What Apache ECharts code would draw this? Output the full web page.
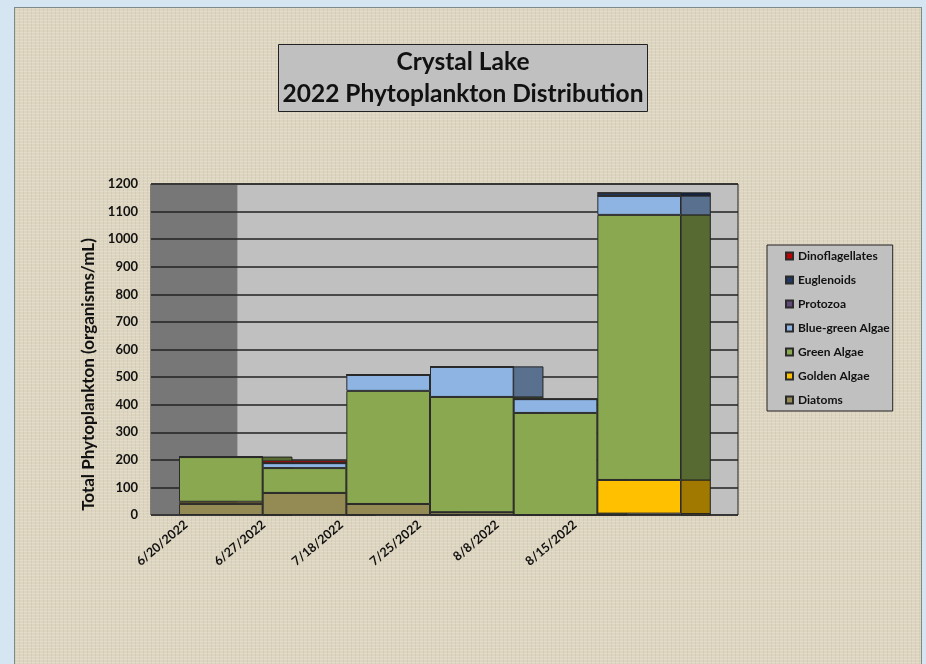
<!DOCTYPE html>
<html>
<head>
<meta charset="utf-8">
<script src="https://cdn.jsdelivr.net/npm/echarts@6/dist/echarts.min.js"></script>
<style>
  html, body { margin: 0; padding: 0; width: 926px; height: 664px; overflow: hidden; background: #d5e6f2; }
  #panel {
    position: absolute; left: 14px; top: 7px; width: 908px; height: 660px; box-sizing: border-box;
    border: 1px solid #7c8a8a;
    background-color: #ddd5c0;
    background-image:
      repeating-linear-gradient(0deg, rgba(255,255,255,0.16) 0 1px, transparent 1px 3px),
      repeating-linear-gradient(90deg, rgba(130,110,80,0.09) 0 1px, transparent 1px 4px);
  }
  #chart { position: absolute; left: 0; top: 0; width: 926px; height: 664px; }
</style>
</head>
<body>
<div id="panel"></div>
<div id="chart"></div>
<script>
// sample dates
const dates = ['6/20/2022', '6/27/2022', '7/18/2022', '7/25/2022', '8/8/2022', '8/15/2022'];

// organisms/mL (bottom to top)
const diatoms = [40, 80, 40, 10, 0, 5];
const goldenAlgae = [8, 0, 0, 0, 0, 122];
const greenAlgae = [162, 90, 410, 418, 370, 961];
const blueGreenAlgae = [0, 18, 58, 109, 50, 69];
const protozoa = [0, 0, 0, 0, 0, 0];
const euglenoids = [0, 0, 0, 0, 0, 11];
const dinoflagellates = [0, 10, 0, 0, 0, 0];

const FONT = 'Lato, "DejaVu Sans", sans-serif';

const groups = [
  { name: 'Diatoms', values: diatoms, color: '#948a54' },
  { name: 'Golden Algae', values: goldenAlgae, color: '#ffc000' },
  { name: 'Green Algae', values: greenAlgae, color: '#8aa84f' },
  { name: 'Blue-green Algae', values: blueGreenAlgae, color: '#8db4e2' },
  { name: 'Protozoa', values: protozoa, color: '#604a7b' },
  { name: 'Euglenoids', values: euglenoids, color: '#1f3864' },
  { name: 'Dinoflagellates', values: dinoflagellates, color: '#c00000' }
];

function darken(hex, f) {
  const n = parseInt(hex.slice(1), 16);
  const r = Math.round(((n >> 16) & 255) * f);
  const g = Math.round(((n >> 8) & 255) * f);
  const b = Math.round((n & 255) * f);
  return 'rgb(' + r + ',' + g + ',' + b + ')';
}

// side faces of the 3d columns: [category, base, top, group]
const sideData = [];
dates.forEach(function (d, i) {
  let base = 0;
  groups.forEach(function (g, k) {
    const v = g.values[i];
    if (v > 0) sideData.push([i, base, base + v, k]);
    base += v;
  });
});

const barSeries = groups.map(function (g) {
  return {
    name: g.name,
    type: 'bar',
    stack: 'total',
    xAxisIndex: 1,
    yAxisIndex: 1,
    barWidth: '100%',
    z: 10,
    itemStyle: { color: g.color, borderColor: '#2b2b2b', borderWidth: 1 },
    data: g.values
  };
});

const chart = echarts.init(document.getElementById('chart'));

chart.setOption({
  backgroundColor: 'transparent',
  animation: false,
  textStyle: { fontFamily: FONT },
  title: {
    text: 'Crystal Lake\n2022 Phytoplankton Distribution',
    left: 'center',
    top: 44,
    backgroundColor: '#c0c0c0',
    borderColor: '#222',
    borderWidth: 1,
    padding: [2, 4, 2, 4],
    textStyle: { fontFamily: FONT, fontSize: 24.5, fontWeight: 'bold', color: '#111', lineHeight: 32 }
  },
  legend: {
    data: groups.map(function (g) { return g.name; }).reverse(),
    orient: 'vertical',
    left: 767,
    top: 245,
    icon: 'rect',
    itemWidth: 7,
    itemHeight: 7,
    itemGap: 12,
    backgroundColor: '#c0c0c0',
    borderColor: '#222',
    borderWidth: 1,
    padding: [5, 3, 5, 18],
    textStyle: { fontFamily: FONT, fontSize: 12, fontWeight: 'bold', color: '#111', lineHeight: 12 }
  },
  grid: [
    { left: 151, top: 184, width: 587, height: 331, show: true, backgroundColor: '#c0c0c0', borderColor: '#222', borderWidth: 1 },
    { left: 179, top: 184, width: 502, height: 331 },
    { left: 147, top: 184, width: 467, height: 331 }
  ],
  xAxis: [
    { gridIndex: 0, type: 'value', min: 0, max: 7, show: false },
    { gridIndex: 1, type: 'category', data: dates, show: false },
    {
      gridIndex: 2, type: 'category', data: dates,
      axisLine: { show: false }, axisTick: { show: false },
      axisLabel: { interval: 0, rotate: 40, margin: 8, fontFamily: FONT, fontSize: 12.5, fontWeight: 'bold', color: '#111' }
    }
  ],
  yAxis: [
    {
      gridIndex: 0, type: 'value', min: 0, max: 1200, interval: 100, z: 3,
      axisLine: { show: false }, axisTick: { show: false },
      axisLabel: {
        margin: 13, fontFamily: FONT, fontSize: 13, fontWeight: 'bold', color: '#111',
        formatter: function (v) { return String(v); }
      },
      splitLine: { lineStyle: { color: '#222', width: 1.5 } },
      name: 'Total Phytoplankton (organisms/mL)',
      nameLocation: 'middle',
      nameGap: 41,
      nameTextStyle: { fontFamily: FONT, fontSize: 17, fontWeight: 'bold', color: '#111', padding: [0, 50, 0, 0] }
    },
    { gridIndex: 1, type: 'value', min: 0, max: 1200, show: false },
    { gridIndex: 2, type: 'value', min: 0, max: 1200, show: false }
  ],
  series: [
    {
      // left wall of the 3d plot
      type: 'line',
      xAxisIndex: 0,
      yAxisIndex: 0,
      data: [],
      markArea: {
        silent: true,
        z: 1,
        itemStyle: { color: '#777777' },
        data: [[{ xAxis: 0 }, { xAxis: 1.03 }]]
      }
    },
    {
      type: 'custom',
      xAxisIndex: 1,
      yAxisIndex: 1,
      z: 9,
      silent: true,
      encode: { x: 0, y: [1, 2] },
      data: sideData,
      renderItem: function (params, api) {
        const top = api.coord([api.value(0), api.value(2)]);
        const bot = api.coord([api.value(0), api.value(1)]);
        const band = api.size([1, 0])[0];
        const g = groups[api.value(3)];
        return {
          type: 'rect',
          shape: { x: top[0] + band / 2, y: top[1], width: band * 0.35, height: bot[1] - top[1] },
          style: { fill: darken(g.color, 0.63), stroke: '#222', lineWidth: 1 }
        };
      }
    }
  ].concat(barSeries)
});
</script>
</body>
</html>
